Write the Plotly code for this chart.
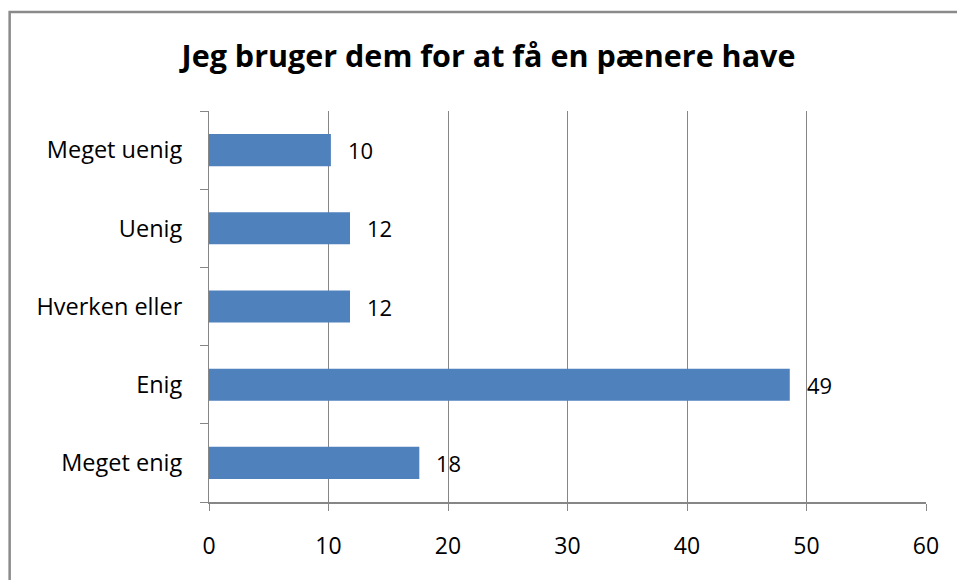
import plotly.graph_objects as go

categories = ["Meget uenig", "Uenig", "Hverken eller", "Enig", "Meget enig"]
values = [10.2, 11.8, 11.8, 48.6, 17.6]
x_ticks = [0, 10, 20, 30, 40, 50, 60]
title_text = "Jeg bruger dem for at få en pænere have"

W, H = 957, 580
L, R, T, B = 208.5, 31, 111, 78
FONT = "Open Sans"

fig = go.Figure()
fig.add_trace(go.Bar(
    y=categories, x=values, orientation="h",
    marker=dict(color="#4F81BD", line=dict(width=0)),
    width=0.41, hoverinfo="skip",
))

for c, v in zip(categories, values):
    fig.add_annotation(x=v, y=c, xref="x", yref="y", text=f"{v:.0f}",
                       showarrow=False, xanchor="left", yanchor="middle",
                       xshift=15, font=dict(family=FONT, size=22, color="#000000"))

fig.update_layout(
    width=W, height=H,
    margin=dict(l=L, r=R, t=T, b=B),
    paper_bgcolor="white", plot_bgcolor="white",
    showlegend=False,
    title=dict(text=title_text, x=488.5 / W, xref="container", xanchor="center",
               y=1 - 56 / H, yref="container", yanchor="middle",
               font=dict(family=FONT, size=30.5, color="#000000", weight="bold")),
    font=dict(family=FONT, color="#000000"),
)

fig.update_xaxes(range=[0, 60], tickvals=x_ticks, ticktext=[str(t) for t in x_ticks],
                 showgrid=True, gridcolor="#868686", gridwidth=1,
                 showline=True, linecolor="#868686", linewidth=2,
                 ticks="outside", ticklen=7, tickcolor="#868686", tickwidth=1,
                 zeroline=False, ticklabelstandoff=15,
                 tickfont=dict(family=FONT, size=23, color="#000000"), fixedrange=True)
fig.update_yaxes(categoryorder="array", categoryarray=categories[::-1],
                 showline=True, linecolor="#868686", linewidth=1,
                 ticks="outside", ticklen=8, tickcolor="#868686", tickwidth=1,
                 tickson="boundaries", showgrid=False, ticklabelstandoff=21,
                 tickfont=dict(family=FONT, size=23.5, color="#000000"), fixedrange=True)

pw, ph = W - L - R, H - T - B
x0 = (9 - L) / pw
x1 = (1000 - L) / pw
y1 = ((H - B) - 12) / ph
y0 = ((H - B) - 620) / ph
fig.add_shape(type="rect", xref="paper", yref="paper", x0=x0, x1=x1, y0=y0, y1=y1,
              line=dict(color="#8a8a8a", width=2.5), fillcolor="rgba(0,0,0,0)", layer="below")

fig.write_html("out.html", config={"displayModeBar": False, "staticPlot": True},
               post_script="document.body.style.margin='0px';document.body.style.overflow='hidden';")
